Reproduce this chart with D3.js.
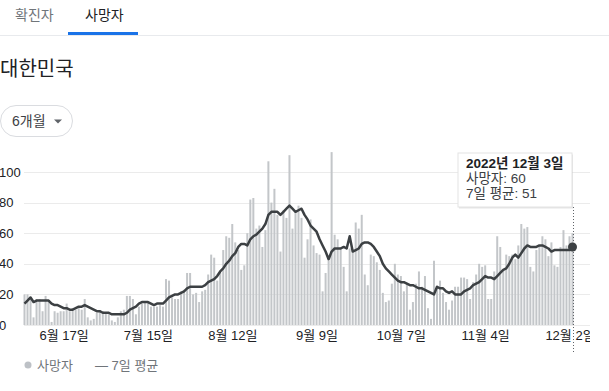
<!DOCTYPE html>
<html>
<head>
<meta charset="utf-8">
<script src="https://cdn.jsdelivr.net/npm/d3@7"></script>
<style>
  body { margin: 0; background: #fff; font-family: Arial, "Liberation Sans", "Noto Sans CJK KR", sans-serif; }
  svg text { font-family: Arial, "Liberation Sans", "Noto Sans CJK KR", sans-serif; }
</style>
</head>
<body>
<svg id="chart" width="609" height="391"></svg>
<script>
// first day shown, one bar per day after it
const startDay = "2022-06-04"

// daily deaths
const deaths = [
  20,20,18,5,17,17,9,19,16,2,9,8,9,9,14,9,11,10,11,10,
  17,5,3,4,8,9,9,8,8,3,2,5,9,10,19,19,17,7,12,14,
  15,15,12,12,12,13,12,30,29,18,17,17,22,23,34,34,20,21,15,
  22,23,33,46,44,29,34,49,58,57,66,54,49,36,39,60,82,83,63,65,
  51,62,107,80,89,72,48,75,70,111,63,75,78,70,44,56,69,52,47,46,
  22,34,42,113,59,56,51,38,22,50,48,67,63,72,33,26,46,45,41,36,
  21,15,16,27,40,33,
  32,22,27,10,15,27,35,25,32,11,4,42,25,29,21,15,10,16,25,25,
  31,31,30,17,28,33,40,38,39,17,17,35,58,51,36,46,45,46,43,52,
  66,63,64,38,35,49,52,58,56,45,54,39,38,51,62,52,58,60
]

// 7-day average
const avg7 = [
  14,16,18,15,16,16,16,16,16,14,13,13,12,11,11,10,10,11,12,12,
  13,12,11,10,9,9,8,8,8,7,7,7,7,7,8,10,11,12,14,15,
  15,15,14,13,14,14,14,16,18,19,20,20,21,22,24,25,25,25,25,
  25,26,28,29,30,32,35,37,40,42,45,47,51,53,53,52,56,58,59,61,
  63,66,72,74,74,74,72,74,76,78,76,74,75,76,72,69,65,63,61,56,
  52,48,43,48,50,50,50,51,50,58,48,49,50,53,54,54,53,51,48,45,
  40,37,35,33,31,29,
  28,28,27,26,26,25,24,24,23,22,21,20,25,24,24,22,21,22,20,20,
  20,22,23,24,26,27,28,30,32,31,31,30,32,34,36,37,40,44,46,44,
  47,50,52,51,51,51,52,52,51,50,48,49,49,49,49,49,49,51
]

const yTicks = [0, 20, 40, 60, 80, 100]
const xTickDays = ["2022-06-17", "2022-07-15", "2022-08-12", "2022-09-09", "2022-10-07", "2022-11-04", "2022-12-02"]

const tabs = ["확진자", "사망자"]
const title = "대한민국"
const rangeLabel = "6개월"
const legendLabels = ["사망자", "7일 평균"]
const tipDate = "2022년 12월 3일"

//
// setup
//
const parse = d3.timeParse("%Y-%m-%d")
const day0 = parse(startDay)
const days = deaths.map(function(d, i) { return d3.timeDay.offset(day0, i) })

const svg = d3.select("#chart")

const x = d3.scaleTime()
  .domain([days[0], days[days.length - 1]])
  .range([24.5, 572.5])
const y = d3.scaleLinear().domain([0, 100]).range([325, 172])

const dark = "#202124"
const grey = "#70757a"

// tabs
svg.append("text").attr("x", 15).attr("y", 20)
  .attr("font-size", 14).attr("fill", grey).text(tabs[0])
svg.append("text").attr("x", 85).attr("y", 20)
  .attr("font-size", 14).attr("fill", dark).text(tabs[1])
svg.append("rect").attr("x", 0).attr("y", 35).attr("width", 609).attr("height", 1).attr("fill", "#e8eaed")
svg.append("rect").attr("x", 68).attr("y", 32).attr("width", 70).attr("height", 3).attr("fill", "#1a73e8")

// title
svg.append("text").attr("x", 0).attr("y", 76)
  .attr("font-size", 20).attr("fill", dark).text(title)

// range button
svg.append("rect").attr("x", 0.5).attr("y", 105.5).attr("width", 72).attr("height", 31)
  .attr("rx", 15.5).attr("fill", "#fff").attr("stroke", "#dadce0")
svg.append("text").attr("x", 12).attr("y", 126)
  .attr("font-size", 14).attr("fill", "#3c4043").text(rangeLabel)
svg.append("path").attr("d", "M54,119.5 L62,119.5 L58,123.5 Z").attr("fill", "#5f6368")

// chart area (clipped on the right like the original)
svg.append("clipPath").attr("id", "clip")
  .append("rect").attr("x", -5).attr("y", 140).attr("width", 595).attr("height", 220)
const g = svg.append("g").attr("clip-path", "url(#clip)")

// gridlines
g.selectAll(".grid")
  .data(yTicks)
  .enter()
  .append("line")
  .attr("class", "grid")
  .attr("x1", 24).attr("x2", 590)
  .attr("y1", function(d) { return Math.round(y(d)) + 0.5 })
  .attr("y2", function(d) { return Math.round(y(d)) + 0.5 })
  .attr("stroke", "#ebebeb")

// y labels
g.selectAll(".ylab")
  .data(yTicks)
  .enter()
  .append("text")
  .attr("class", "ylab")
  .attr("x", -1)
  .attr("y", function(d) { return y(d) + 4.5 })
  .attr("font-size", 13)
  .attr("fill", dark)
  .text(function(d) { return d })

// bars
g.selectAll(".bar")
  .data(deaths)
  .enter()
  .append("rect")
  .attr("class", "bar")
  .attr("x", function(d, i) { return x(days[i]) - 1 })
  .attr("width", 2)
  .attr("y", function(d) { return y(d) })
  .attr("height", function(d) { return y(0) - y(d) })
  .attr("fill", "#c3c6c9")

// 7 day average line
const line = d3.line()
  .x(function(d, i) { return x(days[i]) })
  .y(function(d) { return y(d) })
g.append("path")
  .datum(avg7)
  .attr("d", line)
  .attr("fill", "none")
  .attr("stroke", "#3c4043")
  .attr("stroke-width", 2.5)
  .attr("stroke-linejoin", "round")

// x axis
const xAxis = d3.axisBottom(x)
  .tickValues(xTickDays.map(parse))
  .tickFormat(d3.timeFormat("%-m월 %-d일"))
  .tickSize(0)
  .tickPadding(0)
const ax = g.append("g").attr("transform", "translate(0,329)").call(xAxis)
ax.select(".domain").remove()
ax.selectAll("text")
  .attr("font-size", 13)
  .attr("fill", dark)
  .attr("dy", "0.85em")
  .style("font-family", "Arial, 'Liberation Sans', 'Noto Sans CJK KR', sans-serif")

// hover marker on last day
const last = days.length - 1
const hx = Math.round(x(days[last])) + 0.5
svg.append("line")
  .attr("x1", hx).attr("x2", hx).attr("y1", 207).attr("y2", 353)
  .attr("stroke", "#5f6368").attr("stroke-dasharray", "1,2")
svg.append("circle")
  .attr("cx", x(days[last])).attr("cy", y(avg7[last])).attr("r", 4.5)
  .attr("fill", "#3c4043")

// tooltip
const tip = svg.append("g").attr("transform", "translate(458,153)")
tip.append("rect").attr("x", 1).attr("y", 1.5).attr("width", 114).attr("height", 54)
  .attr("fill", "#000").attr("opacity", 0.1)
tip.append("rect").attr("width", 114).attr("height", 54)
  .attr("fill", "#fff").attr("stroke", "#e3e3e3")
tip.append("text").attr("x", 8).attr("y", 15)
  .attr("font-size", 13.5).attr("font-weight", "bold").attr("fill", dark).text(tipDate)
tip.append("text").attr("x", 8).attr("y", 30)
  .attr("font-size", 13.5).attr("fill", "#3c4043").text(legendLabels[0] + ": " + deaths[last])
tip.append("text").attr("x", 8).attr("y", 45)
  .attr("font-size", 13.5).attr("fill", "#3c4043").text(legendLabels[1] + ": " + avg7[last])

// legend
svg.append("circle").attr("cx", 28).attr("cy", 365).attr("r", 3.5).attr("fill", "#bdc1c6")
svg.append("text").attr("x", 37).attr("y", 370)
  .attr("font-size", 13).attr("fill", grey).text(legendLabels[0])
svg.append("text").attr("x", 95).attr("y", 370)
  .attr("font-size", 13).attr("fill", grey).text("— " + legendLabels[1])
</script>
</body>
</html>
